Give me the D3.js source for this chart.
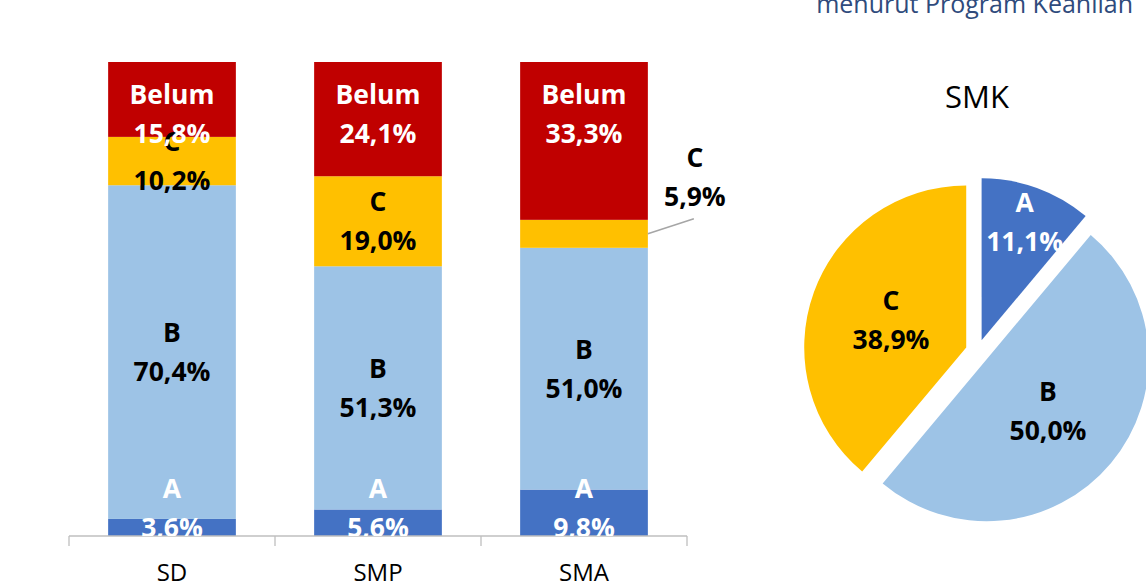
<!DOCTYPE html>
<html>
<head>
<meta charset="utf-8">
<script src="https://cdn.jsdelivr.net/npm/d3@7"></script>
<style>
  body { margin: 0; background: #fff; }
  svg { display: block; font-family: "Open Sans", "Noto Sans", sans-serif; }
</style>
</head>
<body>
<svg width="1146" height="585"></svg>
<script>
// data
const levels = ["SD", "SMP", "SMA"];
const seriesNames = ["A", "B", "C", "Belum"];
const valA = [3.6, 5.6, 9.8];
const valB = [70.4, 51.3, 51.0];
const valC = [10.2, 19.0, 5.9];
const valBelum = [15.8, 24.1, 33.3];

const pieTitle = "SMK";
const pieNames = ["A", "B", "C"];
const pieValues = [11.1, 50.0, 38.9];

const headText = "menurut Program Keahlian";

const colors = { A: "#4472C4", B: "#9DC3E6", C: "#FFC000", Belum: "#C00000" };
const labelColor = { A: "#fff", B: "#000", C: "#000", Belum: "#fff" };
const fmt = v => v.toFixed(1).replace(".", ",") + "%";
const labelSize = 26.5;

const svg = d3.select("svg");

// title fragment at the top right (cut by the frame, as in the source)
svg.append("text")
  .attr("x", 1133).attr("y", 13)
  .attr("text-anchor", "end")
  .attr("font-size", 25)
  .attr("fill", "#2F4B7C")
  .text(headText);

// ---------- stacked bars ----------
const x = d3.scaleBand().domain(levels).range([69, 687]).paddingInner(0.38).paddingOuter(0.19);
const y = d3.scaleLinear().domain([0, 100]).range([536, 62]);

const rows = levels.map((lv, i) => ({
  level: lv, A: valA[i], B: valB[i], C: valC[i], Belum: valBelum[i]
}));
const stacked = d3.stack().keys(seriesNames)(rows);

svg.append("defs").append("clipPath").attr("id", "plotclip")
  .append("rect").attr("x", 0).attr("y", 0).attr("width", 760).attr("height", 536);

const barG = svg.append("g");
stacked.forEach(s => {
  barG.selectAll(null).data(s).join("rect")
    .attr("x", d => x(d.data.level))
    .attr("width", x.bandwidth())
    .attr("y", d => y(d[1]))
    .attr("height", d => y(d[0]) - y(d[1]))
    .attr("fill", colors[s.key]);
});

// axis
const axisG = svg.append("g").attr("transform", "translate(0,536)");
axisG.append("line").attr("x1", 69).attr("x2", 687).attr("stroke", "#BFBFBF").attr("stroke-width", 1.3);
const edges = levels.map(l => x(l) - x.step() * x.paddingInner() / 2).concat([687]);
axisG.selectAll(null).data(edges).join("line")
  .attr("x1", d => d).attr("x2", d => d).attr("y1", 0).attr("y2", 10)
  .attr("stroke", "#BFBFBF").attr("stroke-width", 1.3);
axisG.selectAll(null).data(levels).join("text")
  .attr("x", d => x(d) + x.bandwidth() / 2)
  .attr("y", 45)
  .attr("text-anchor", "middle")
  .attr("font-size", 24)
  .attr("fill", "#000")
  .text(d => d);

// bar labels
const labelG = svg.append("g").attr("clip-path", "url(#plotclip)")
  .attr("font-weight", "bold").attr("font-size", labelSize).attr("text-anchor", "middle");

stacked.forEach(s => {
  s.forEach(d => {
    const cx = x(d.data.level) + x.bandwidth() / 2;
    const top = y(d[1]), bot = y(d[0]);
    let cy = (top + bot) / 2;
    if (s.key === "A") cy = bot - 28;       // inside base
    if (s.key === "Belum") cy = top + 52;   // inside end
    let lx = cx;
    const v = d[1] - d[0];
    if (s.key === "C" && v < 8) {
      // too small: label outside with a leader line
      const ex = x(d.data.level) + x.bandwidth();
      lx = ex + 47;
      labelG.append("line")
        .attr("x1", ex).attr("y1", (top + bot) / 2)
        .attr("x2", ex + 46).attr("y2", (top + bot) / 2 - 15)
        .attr("stroke", "#A6A6A6").attr("stroke-width", 1.5);
      cy = top - 43;
    }
    const t = labelG.append("text").attr("fill", labelColor[s.key]);
    t.append("tspan").attr("x", lx).attr("y", cy - 10).text(s.key);
    t.append("tspan").attr("x", lx).attr("y", cy + 29).text(fmt(v));
  });
});

// ---------- pie ----------
const O = [977.5, 351.5];
const R = 162, explode = 12;
svg.append("text")
  .attr("x", 977).attr("y", 108)
  .attr("text-anchor", "middle")
  .attr("font-size", 31)
  .attr("fill", "#000")
  .text(pieTitle);

const pie = d3.pie().sort(null).value(d => d.v);
const arcs = pie(pieNames.map((n, i) => ({ name: n, v: pieValues[i] })));
const arc = d3.arc().innerRadius(0).outerRadius(R);
const pieG = svg.append("g").attr("transform", `translate(${O[0]},${O[1]})`);

arcs.forEach(a => {
  const mid = (a.startAngle + a.endAngle) / 2;
  const dx = Math.sin(mid) * explode, dy = -Math.cos(mid) * explode;
  const g = pieG.append("g").attr("transform", `translate(${dx},${dy})`);
  g.append("path").attr("d", arc(a)).attr("fill", colors[a.data.name]);
  const lr = a.data.name === "A" ? 126 : 80;
  const lx = Math.sin(mid) * lr, ly = -Math.cos(mid) * lr;
  const t = g.append("text")
    .attr("text-anchor", "middle").attr("font-weight", "bold").attr("font-size", labelSize)
    .attr("fill", labelColor[a.data.name]);
  t.append("tspan").attr("x", lx).attr("y", ly - 10).text(a.data.name);
  t.append("tspan").attr("x", lx).attr("y", ly + 29).text(fmt(a.data.v));
});
</script>
</body>
</html>
